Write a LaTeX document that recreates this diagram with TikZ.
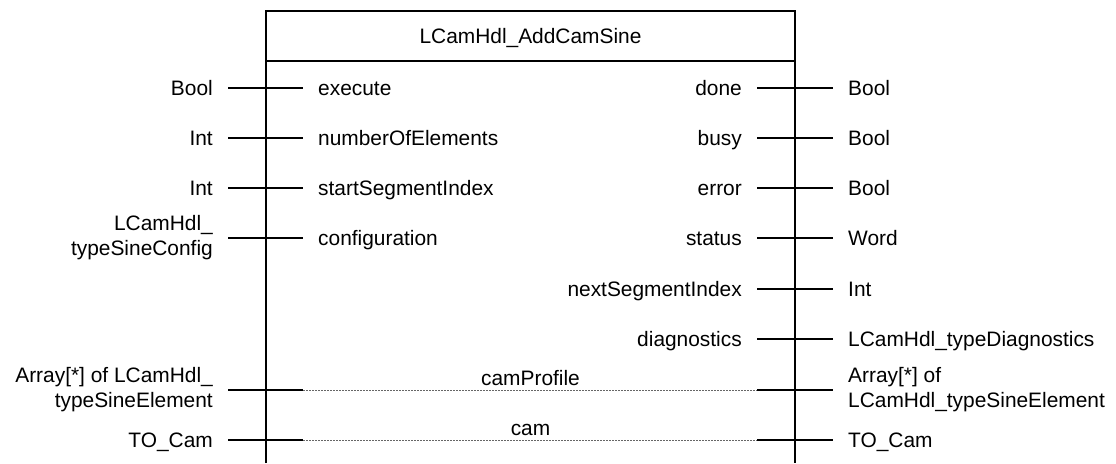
\documentclass[tikz,border=0pt]{standalone}
\usepackage{fontspec}
\setmainfont{Liberation Sans}
\usetikzlibrary{calc}
\begin{document}
\begin{tikzpicture}[x=1pt,y=-1pt,
  lbl/.style={inner sep=0pt, font=\fontsize{20.9}{25}\selectfont},
  one/.style={text height=15pt, text depth=0pt},
  ltype/.style={lbl, anchor=east, align=right},
  rtype/.style={lbl, anchor=west, align=left},
  lpin/.style={lbl, one, anchor=west},
  rpin/.style={lbl, one, anchor=east},
  boxline/.style={line width=2.8pt, line join=miter},
  stub/.style={line width=2.4pt},
  inout/.style={line width=0.8pt, black!60, dash pattern=on 2pt off 1pt}]
\useasboundingbox (0,0) rectangle (1116,463);

% block
\draw[boxline] (266,463) -- (266,11) -- (795,11) -- (795,463);
\draw[boxline] (266,61) -- (795,61);
\node[lbl, one] (title) at (530.5,36) {LCamHdl\_AddCamSine};

% inputs
\node[ltype, one] (tExecute) at (213,88) {Bool};
\node[lpin] (pExecute) at (318,88) {execute};
\node[ltype, one] (tNum) at (213,138) {Int};
\node[lpin] (pNum) at (318,138) {numberOfElements};
\node[ltype, one] (tStart) at (213,188) {Int};
\node[lpin] (pStart) at (318,188) {startSegmentIndex};
\node[ltype] (tConf) at (213,238) {LCamHdl\_\\typeSineConfig};
\node[lpin] (pConf) at (318,238) {configuration};

\foreach \t/\p in {tExecute/pExecute, tNum/pNum, tStart/pStart}
  \draw[stub] ($(\t.east)+(15,0)$) -- ($(\p.west)+(-15,0)$);
\draw[stub] ($(pConf.west)+(-90,0)$) -- ($(pConf.west)+(-15,0)$);

% outputs
\node[rpin] (pDone) at (742,88) {done};
\node[rtype, one] (tDone) at (848,88) {Bool};
\node[rpin] (pBusy) at (742,138) {busy};
\node[rtype, one] (tBusy) at (848,138) {Bool};
\node[rpin] (pError) at (742,188) {error};
\node[rtype, one] (tError) at (848,188) {Bool};
\node[rpin] (pStatus) at (742,238) {status};
\node[rtype, one] (tStatus) at (848,238) {Word};
\node[rpin] (pNext) at (742,289) {nextSegmentIndex};
\node[rtype, one] (tNext) at (848,289) {Int};
\node[rpin] (pDiag) at (742,339) {diagnostics};
\node[rtype, one] (tDiag) at (848,339) {LCamHdl\_typeDiagnostics};

\foreach \p/\t in {pDone/tDone, pBusy/tBusy, pError/tError, pStatus/tStatus, pNext/tNext, pDiag/tDiag}
  \draw[stub] ($(\p.east)+(15,0)$) -- ($(\t.west)+(-15,0)$);

% in/outs
\node[ltype] (tProfL) at (213,390) {Array[*] of LCamHdl\_\\typeSineElement};
\node[rtype] (tProfR) at (848,390) {Array[*] of\\LCamHdl\_typeSineElement};
\coordinate (cpL) at (303,390);
\coordinate (cpR) at (757,390);
\node[lbl, anchor=base] (pProf) at (530.5,385) {camProfile};
\draw[stub] ($(tProfL.east)+(15,0)$) -- (cpL);
\draw[inout] (cpL) -- (cpR);
\draw[stub] (cpR) -- ($(tProfR.west)+(-15,0)$);

\node[ltype, one] (tCamL) at (213,440) {TO\_Cam};
\node[rtype, one] (tCamR) at (848,440) {TO\_Cam};
\coordinate (cL) at (303,440);
\coordinate (cR) at (757,440);
\node[lbl, anchor=base] (pCam) at (530.5,435) {cam};
\draw[stub] ($(tCamL.east)+(15,0)$) -- (cL);
\draw[inout] (cL) -- (cR);
\draw[stub] (cR) -- ($(tCamR.west)+(-15,0)$);
\end{tikzpicture}
\end{document}
